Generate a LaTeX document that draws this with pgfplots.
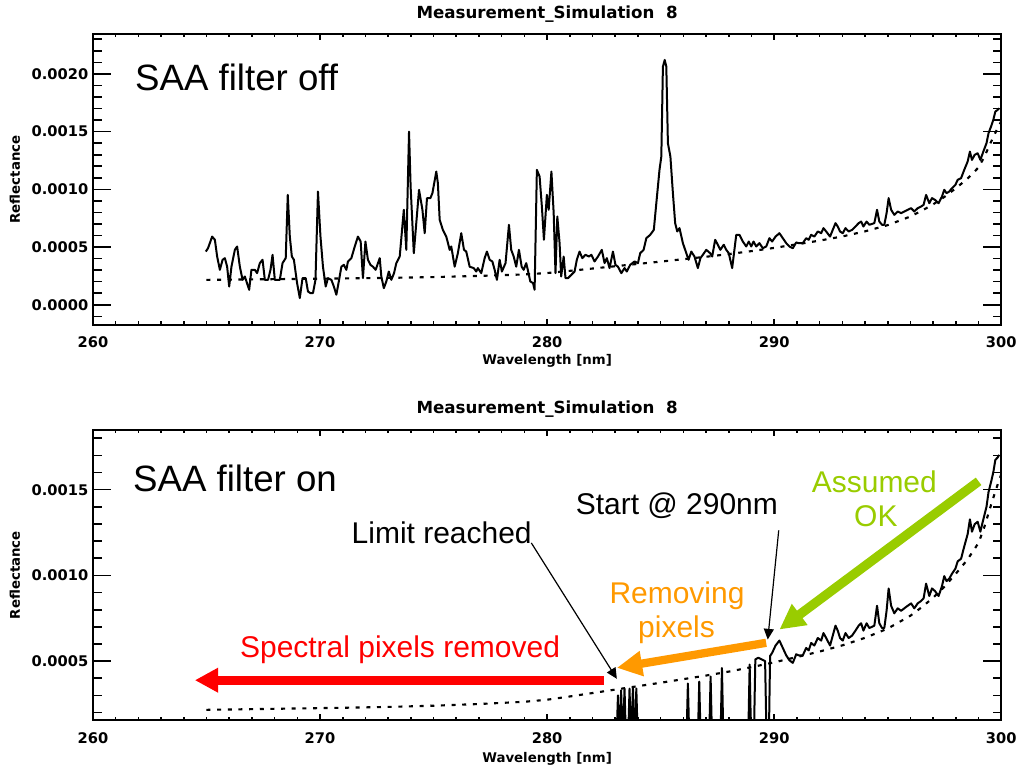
\documentclass[border=0pt]{standalone}
\usepackage{fontspec}
\setmainfont{Liberation Sans}
\newfontfamily\idlfont{DejaVu Sans}
\usepackage{pgfplots}
\usepackage{pgfplotstable}
\pgfplotsset{compat=1.18}
\usetikzlibrary{arrows.meta}

\definecolor{saared}{RGB}{255,0,0}
\definecolor{saaorange}{RGB}{255,153,0}
\definecolor{saagreen}{RGB}{153,204,0}

% measured reflectance spectrum
\pgfplotstableread{
wl refl
264.97 0.000461
265.07 0.000491
265.25 0.000591
265.37 0.000563
265.47 0.000418
265.59 0.000303
265.71 0.000390
265.81 0.000404
265.91 0.000330
266.00 0.000158
266.10 0.000330
266.25 0.000476
266.35 0.000505
266.47 0.000330
266.59 0.000216
266.69 0.000245
266.88 0.000130
266.98 0.000303
267.13 0.000303
267.23 0.000274
267.35 0.000361
267.47 0.000390
267.57 0.000216
267.71 0.000216
267.82 0.000303
267.91 0.000433
268.01 0.000216
268.23 0.000216
268.35 0.000361
268.49 0.000404
268.58 0.000952
268.67 0.000591
268.76 0.000418
268.85 0.000390
268.99 0.000188
269.11 0.000058
269.23 0.000231
269.37 0.000231
269.47 0.000115
269.58 0.000101
269.69 0.000101
269.80 0.000216
269.91 0.000981
270.02 0.000591
270.13 0.000330
270.25 0.000158
270.35 0.000231
270.50 0.000216
270.61 0.000158
270.72 0.000087
270.84 0.000216
270.94 0.000330
271.05 0.000346
271.16 0.000303
271.23 0.000375
271.38 0.000404
271.53 0.000505
271.67 0.000591
271.79 0.000548
271.89 0.000231
272.00 0.000548
272.11 0.000390
272.22 0.000346
272.33 0.000330
272.45 0.000303
272.63 0.000404
272.70 0.000245
272.81 0.000144
272.92 0.000202
273.03 0.000288
273.14 0.000216
273.26 0.000274
273.36 0.000361
273.51 0.000418
273.69 0.000823
273.80 0.000476
273.92 0.001500
273.99 0.001024
274.13 0.000447
274.36 0.000996
274.51 0.000823
274.61 0.000620
274.71 0.000924
274.86 0.000924
274.95 0.000967
275.12 0.001154
275.19 0.001054
275.27 0.000736
275.41 0.000649
275.56 0.000591
275.71 0.000476
275.78 0.000505
275.93 0.000330
276.07 0.000447
276.22 0.000620
276.34 0.000476
276.44 0.000461
276.59 0.000330
276.77 0.000318
276.88 0.000288
276.95 0.000318
277.10 0.000274
277.25 0.000404
277.35 0.000461
277.47 0.000390
277.59 0.000375
277.69 0.000303
277.79 0.000216
277.91 0.000390
278.01 0.000288
278.17 0.000361
278.32 0.000693
278.42 0.000476
278.53 0.000418
278.64 0.000330
278.76 0.000476
278.88 0.000330
278.97 0.000303
279.08 0.000361
279.15 0.000303
279.26 0.000202
279.38 0.000188
279.45 0.000130
279.55 0.001169
279.67 0.001111
279.77 0.000851
279.86 0.000563
279.99 0.000952
280.07 0.000823
280.19 0.001154
280.29 0.000794
280.37 0.000274
280.45 0.000765
280.55 0.000534
280.62 0.000245
280.73 0.000418
280.81 0.000231
280.92 0.000231
281.07 0.000260
281.21 0.000288
281.31 0.000390
281.43 0.000461
281.55 0.000404
281.69 0.000433
281.84 0.000418
281.95 0.000433
282.09 0.000375
282.24 0.000418
282.41 0.000476
282.53 0.000361
282.63 0.000404
282.75 0.000318
282.90 0.000461
283.01 0.000346
283.12 0.000330
283.27 0.000274
283.41 0.000318
283.51 0.000288
283.66 0.000346
283.85 0.000375
284.00 0.000361
284.10 0.000447
284.25 0.000476
284.37 0.000577
284.54 0.000606
284.70 0.000649
284.81 0.000880
284.95 0.001169
285.03 0.001284
285.10 0.002063
285.18 0.002121
285.25 0.002063
285.32 0.001400
285.43 0.001284
285.54 0.000967
285.64 0.000707
285.73 0.000635
285.83 0.000664
285.98 0.000534
286.13 0.000447
286.23 0.000390
286.35 0.000461
286.49 0.000418
286.64 0.000318
286.75 0.000404
286.86 0.000433
287.01 0.000476
287.18 0.000447
287.27 0.000418
287.40 0.000563
287.52 0.000520
287.63 0.000476
287.78 0.000520
287.89 0.000476
288.00 0.000447
288.15 0.000318
288.33 0.000606
288.47 0.000606
288.62 0.000548
288.77 0.000505
288.88 0.000548
288.99 0.000505
289.09 0.000548
289.21 0.000505
289.35 0.000534
289.50 0.000490
289.65 0.000505
289.79 0.000577
289.91 0.000548
290.06 0.000591
290.23 0.000620
290.38 0.000577
290.53 0.000534
290.67 0.000505
290.82 0.000490
290.97 0.000540
291.08 0.000534
291.26 0.000534
291.41 0.000577
291.52 0.000563
291.63 0.000606
291.77 0.000591
291.92 0.000635
292.07 0.000620
292.17 0.000664
292.29 0.000635
292.46 0.000591
292.58 0.000649
292.70 0.000707
292.80 0.000678
292.90 0.000635
293.02 0.000620
293.14 0.000664
293.28 0.000635
293.43 0.000649
293.58 0.000678
293.72 0.000707
293.83 0.000721
293.93 0.000678
294.07 0.000721
294.19 0.000693
294.41 0.000707
294.53 0.000823
294.63 0.000721
294.75 0.000693
294.85 0.000693
294.95 0.000794
295.04 0.000924
295.15 0.000823
295.29 0.000779
295.44 0.000808
295.59 0.000794
295.73 0.000808
295.88 0.000823
296.03 0.000837
296.17 0.000808
296.32 0.000837
296.47 0.000851
296.58 0.000866
296.69 0.000952
296.83 0.000880
296.95 0.000924
297.08 0.000909
297.24 0.000880
297.39 0.000938
297.49 0.000996
297.59 0.000967
297.71 0.000981
297.83 0.001010
297.98 0.001039
298.08 0.001082
298.23 0.001097
298.37 0.001169
298.52 0.001241
298.62 0.001327
298.71 0.001255
298.83 0.001299
298.96 0.001313
299.08 0.001255
299.21 0.001327
299.35 0.001400
299.44 0.001487
299.55 0.001544
299.65 0.001602
299.74 0.001674
299.84 0.001688
299.91 0.001703
}\spectrum

% simulated reflectance
\pgfplotstableread{
wl refl
265.0 0.000216
267.0 0.000220
269.0 0.000224
271.0 0.000228
273.0 0.000233
275.0 0.000240
277.0 0.000250
279.0 0.000263
280.0 0.000275
281.0 0.000294
282.0 0.000314
283.0 0.000334
284.0 0.000354
285.0 0.000374
286.0 0.000395
287.0 0.000416
288.0 0.000439
289.0 0.000465
290.0 0.000493
291.0 0.000524
292.0 0.000556
293.0 0.000592
294.0 0.000636
295.0 0.000690
296.0 0.000765
296.5 0.000815
297.0 0.000870
297.5 0.000935
298.0 0.001010
298.5 0.001090
299.0 0.001190
299.25 0.001280
299.5 0.001390
299.75 0.001495
300.0 0.001590
}\simulation

% pixels below 290 nm that survive the SAA filter (removed ones set to 0)
\pgfplotstableread{
wl refl
283.05 0
283.12 0.000300
283.19 0
283.26 0.000330
283.33 0
283.41 0.000340
283.48 0
283.56 0
283.63 0.000340
283.70 0
283.78 0.000350
283.85 0
283.93 0.000340
284.00 0
286.13 0
286.20 0.000370
286.27 0
286.63 0
286.70 0.000380
286.77 0
287.13 0
287.20 0.000410
287.27 0
287.63 0
287.70 0.000460
287.77 0
288.85 0
288.92 0.000480
288.99 0
289.10 0
289.17 0.000510
289.30 0.000520
289.45 0.000510
289.60 0.000500
289.67 0
289.76 0
289.82 0.000530
289.91 0.000548
}\kept

\pgfplotsset{
  % common frame of both panels (thick box drawn as the axis background outline)
  idlframe/.style={
    scale only axis,
    width=681.75pt, height=218.25pt,
    anchor=south west,
    xmin=260, xmax=300,
    axis background/.style={draw=black, line width=1.5pt},
    scaled y ticks=false,
    /pgf/number format/assume math mode=true,
    tick label style={font=\idlfont\bfseries\fontsize{11}{13}\selectfont},
    every tick/.append style={black, line width=1.2pt},
  },
  % data layer with the wavelength ticks
  idl/.style={
    idlframe,
    ytick=\empty,
    xtick={260,270,280,290,300},
    minor xtick={261,262,...,299},
    major tick length=4.5pt,
    minor tick length=2.5pt,
    xticklabel style={yshift=-5.7pt},
    title={Measurement\_Simulation\ \ 8},
    title style={font=\idlfont\bfseries\fontsize{12.5}{14}\selectfont, anchor=base},
    xlabel={Wavelength [nm]},
    ylabel={Reflectance},
    label style={font=\idlfont\bfseries\fontsize{10}{12}\selectfont},
    xlabel style={anchor=base},
    ylabel style={at={(axis description cs:-0.0803,0.5)}, anchor=base},
  },
  % overlay with the reflectance ticks
  idly/.style={
    idlframe,
    xtick=\empty,
    major tick length=13.5pt,
    minor tick length=6.5pt,
    yticklabel style={/pgf/number format/fixed,/pgf/number format/fixed zerofill,/pgf/number format/precision=4},
  },
  spec/.style={black, line width=1.5pt, line join=round, mark=none},
  simu/.style={black, line width=1.6pt, dash pattern=on 3pt off 5pt, mark=none},
}

\begin{document}
\begin{tikzpicture}
\path (0,0) rectangle (765.75pt,576.75pt);

% filter off
\begin{axis}[idl,
  at={(69.75pt,333pt)},
  ymin=-0.000173, ymax=0.002346,
  title style={at={(axis description cs:0.5,1.025)}},
  xlabel style={at={(axis description cs:0.5,-0.1375)}},
]
\addplot[simu] table[x=wl,y=refl] {\simulation};
\addplot[spec] table[x=wl,y=refl] {\spectrum};
\end{axis}
\begin{axis}[idly,
  at={(69.75pt,333pt)},
  ymin=-0.000173, ymax=0.002346,
  ytick={0,0.0005,0.001,0.0015,0.002},
  minor ytick={-0.0001,0.0001,0.0002,0.0003,0.0004,0.0006,0.0007,0.0008,0.0009,0.0011,0.0012,0.0013,0.0014,0.0016,0.0017,0.0018,0.0019,0.0021,0.0022,0.0023},
]
\end{axis}

% filter on
\begin{axis}[idl,
  at={(69.75pt,36pt)},
  ymin=0.000154, ymax=0.00185,
  title style={at={(axis description cs:0.5,1.0285)}},
  xlabel style={at={(axis description cs:0.5,-0.144)}},
]
\addplot[simu] table[x=wl,y=refl] {\simulation};
\addplot[spec] table[x=wl,y=refl] {\kept};
\addplot[spec] table[x=wl,y=refl, restrict x to domain=289.9:300] {\spectrum};
\end{axis}
\begin{axis}[idly,
  at={(69.75pt,36pt)},
  ymin=0.000154, ymax=0.00185,
  ytick={0.0005,0.001,0.0015},
  minor ytick={0.0002,0.0003,0.0004,0.0006,0.0007,0.0008,0.0009,0.0011,0.0012,0.0013,0.0014,0.0016,0.0017,0.0018},
]
\end{axis}

% annotations
\begin{scope}[x=0.75pt, y=-0.75pt, yshift=576.75pt]
  \node[anchor=base west, inner sep=0, font=\fontsize{27.5}{33}\selectfont] at (135,90.7) {SAA filter off};
  \node[anchor=base west, inner sep=0, font=\fontsize{27.5}{33}\selectfont] at (133,492) {SAA filter on};

  \begin{scope}[font=\fontsize{22.5}{27}\selectfont]
    \node[anchor=base west, inner sep=0] at (351.7,544) {Limit reached};
    \node[anchor=base west, inner sep=0, text=saared] at (240,658.3) {Spectral pixels removed};
    \node[anchor=base west, inner sep=0] at (576,515) {Start @ 290nm};
    \node[anchor=base, inner sep=0, text=saagreen] at (875,492.7) {Assumed};
    \node[anchor=base, inner sep=0, text=saagreen] at (876.5,527.3) {OK};
    \node[anchor=base, inner sep=0, text=saaorange] at (677.5,604) {Removing};
    \node[anchor=base, inner sep=0, text=saaorange] at (677,637.5) {pixels};
  \end{scope}

  \draw[saared, line width=7pt, -{Triangle[length=17.5pt,width=17.5pt]}] (604,680.7) -- (195,680.7);
  \draw[saaorange, line width=6.2pt, -{Triangle[length=19pt,width=18pt]}] (766.7,643.3) -- (617.3,668.3);
  \draw[saagreen, line width=7pt, -{Triangle[length=19pt,width=18.5pt]}] (979.3,481.7) -- (780,630);
  \draw[black, line width=0.9pt, -{Triangle[length=8pt,width=7.5pt]}] (531.7,543.3) -- (617.3,679.3);
  \draw[black, line width=0.9pt, -{Triangle[length=8pt,width=7.5pt]}] (779.3,530.7) -- (768.3,640);
\end{scope}
\end{tikzpicture}
\end{document}
